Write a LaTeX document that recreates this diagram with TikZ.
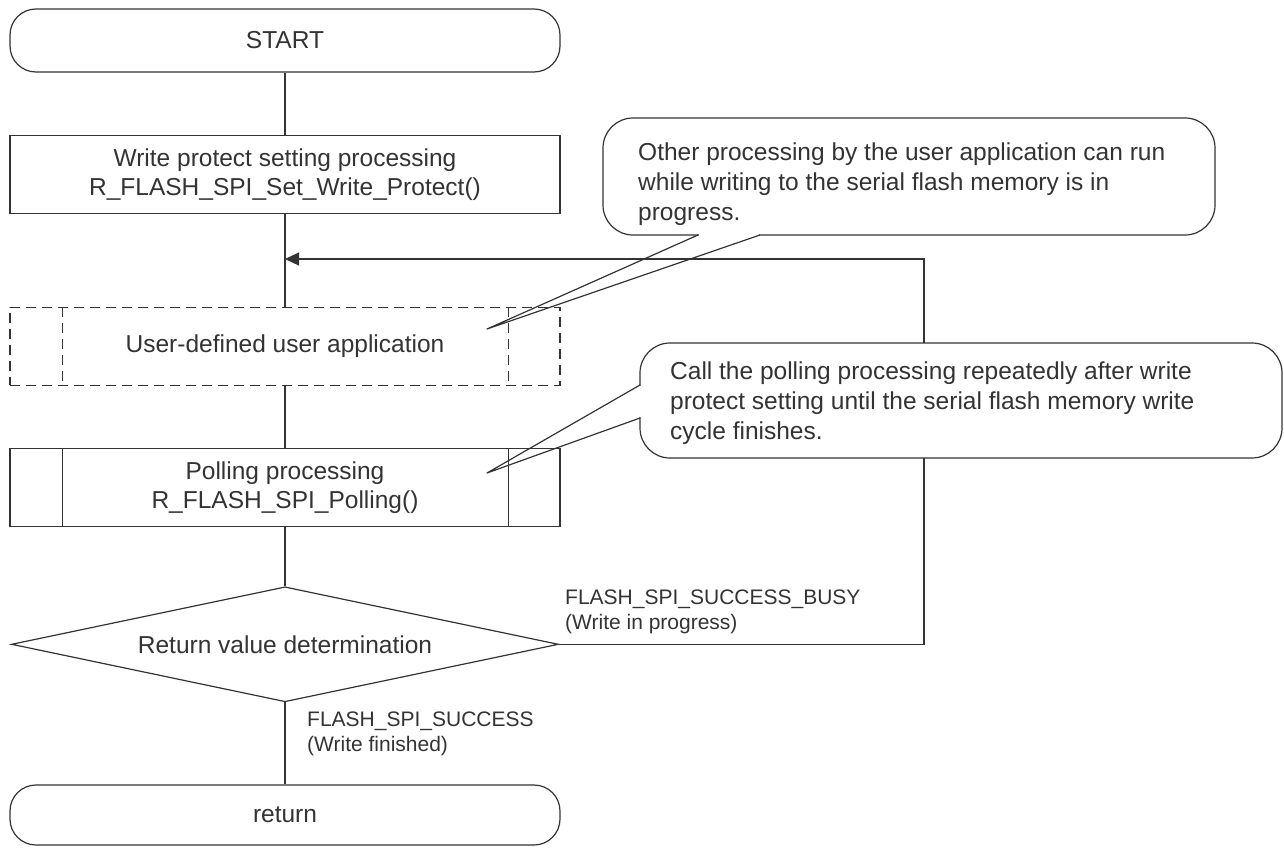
\documentclass[tikz,border=0pt]{standalone}
\usepackage{fontspec}
\setmainfont{Liberation Sans}
\usepackage{tikz}
\usetikzlibrary{shapes.geometric,positioning,arrows.meta}
\definecolor{ink}{HTML}{333333}
\tikzstyle{flowbox}=[
	draw=ink,
	line width=1.2pt,
	minimum width=550pt,
	minimum height=78pt,
	inner sep=0pt,
	align=center,
	text=ink,
	font=\fontsize{24.5}{29}\selectfont
]
\tikzstyle{terminal}=[flowbox, rounded corners=26pt, minimum height=63pt]
\tikzstyle{process}=[flowbox]
\tikzstyle{userproc}=[flowbox, dash pattern=on 10pt off 6pt]
\tikzstyle{decision}=[flowbox, diamond, aspect=4.75, minimum width=547pt, minimum height=115pt]
\tikzstyle{edge}=[
	-,
	draw=ink,
	line width=1.2pt
]
\tikzstyle{loopedge}=[edge, -{Triangle[length=14pt,width=13pt]}]
\tikzstyle{note}=[draw=ink, line width=1.2pt, rounded corners=30pt, fill=white]
\tikzstyle{notetext}=[align=left, inner sep=0pt, text=ink, anchor=north west, font=\fontsize{24.5}{30}\selectfont]
\tikzstyle{branch}=[align=left, inner sep=0pt, text=ink, anchor=north west, font=\fontsize{21}{25}\selectfont]

\begin{document}
\begin{tikzpicture}[x=1pt, y=-1pt]
\useasboundingbox (0,0) rectangle (1284,848);

\node[terminal] (start) at (285,40.5) {START};
\node[process, below=62pt of start] (wp) {Write protect setting processing\\R\_FLASH\_SPI\_Set\_Write\_Protect()};
\node[userproc, below=93pt of wp] (app) {User-defined user application};
\node[process, below=62pt of app] (poll) {Polling processing\\R\_FLASH\_SPI\_Polling()};
\node[decision, below=59pt of poll] (det) {Return value determination};
\node[terminal, minimum height=60pt, below=82pt of det] (ret) {return};

% side bars of the predefined processes
\draw[edge, dash pattern=on 10pt off 6pt] ([xshift=53pt]app.north west) -- ([xshift=53pt]app.south west);
\draw[edge, dash pattern=on 10pt off 6pt] ([xshift=-52pt]app.north east) -- ([xshift=-52pt]app.south east);
\draw[edge] ([xshift=53pt]poll.north west) -- ([xshift=53pt]poll.south west);
\draw[edge] ([xshift=-52pt]poll.north east) -- ([xshift=-52pt]poll.south east);

\draw[edge] (start) -- (wp);
\draw[edge] (wp) -- (app);
\draw[edge] (app) -- (poll);
\draw[edge] (poll) -- (det);
\draw[edge] (det) -- (ret);

\coordinate (merge) at (285,259);
\coordinate (corner) at (924,259);
\draw[loopedge] (det.east) -| (corner) -- (merge);

\node[branch] (busy) at (565,590) {FLASH\_SPI\_SUCCESS\_BUSY\\(Write in progress)};
\node[branch] (done) at (307,712) {FLASH\_SPI\_SUCCESS\\(Write finished)};

% callouts
\draw[note] (603,118) rectangle (1215,235);
\fill[white] (699,233) rectangle (759,237);
\draw[edge, line join=round] (698,235) -- (487,329) -- (760,235);
\node[notetext] (note1) at (638,143) {Other processing by the user application can run\\while writing to the serial flash memory is in\\progress.};

\draw[note] (640,343) rectangle (1282,458);
\fill[white] (638,386) rectangle (642,417);
\draw[edge, line join=round] (640,385) -- (487,473) -- (640,418);
\node[notetext] (note2) at (670,362) {Call the polling processing repeatedly after write\\protect setting until the serial flash memory write\\cycle finishes.};

\end{tikzpicture}
\end{document}
